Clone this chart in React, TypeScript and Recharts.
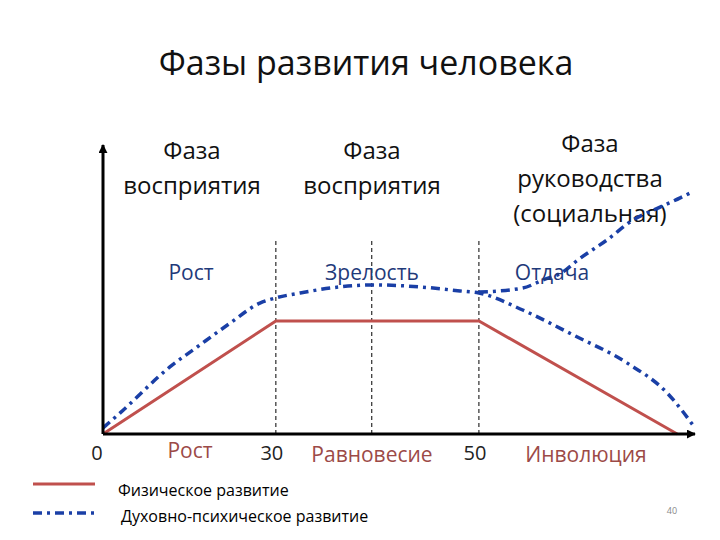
import { LineChart, Line, XAxis, YAxis, ReferenceLine } from "recharts";

// x is a position along the life line (0..100 across the plot), y is the level (0..100)
const physicalX = [0, 29.2, 63.5, 97.0];
const physicalY = [0, 39.1, 39.1, 0];

const mentalX = [0, 2.9, 11.3, 15.9, 21.5, 26.5, 29.2, 33.3, 40.0, 45.4, 53.5, 60.3, 63.5, 70.9, 79.4, 88.5, 95.3, 100];
const mentalY = [2.1, 7.3, 23.2, 30.1, 38.4, 45.3, 47.1, 48.8, 50.9, 51.6, 50.9, 49.5, 48.8, 42.9, 34.3, 24.6, 14.2, 2.1];

const socialX = [63.5, 70.9, 74.3, 77.7, 80.2, 85.1, 89.5, 94.1, 97.5, 99.3];
const socialY = [49.1, 50.5, 53.3, 56.1, 60.2, 67.1, 74.0, 78.5, 81.7, 83.5];

const tickPos = [0, 29.2, 63.5];
const tickLabels = ["0", "30", "50"];

const dividerX = [29.2, 45.4, 63.5];
const dividerTop = 66.8;

const zip = (xs: number[], ys: number[]) => xs.map((x, i) => ({ x, y: ys[i] }));
const physical = zip(physicalX, physicalY);
const mental = zip(mentalX, mentalY);
const social = zip(socialX, socialY);

const RED = "#c0504d";
const BLUE = "#1a3fa6";
const DASHDOT = "9 5 3 5";
const FONT = "'Open Sans', 'Noto Sans', sans-serif";

function Tick(props: any) {
	const { x, y, payload } = props;
	const i = tickPos.indexOf(payload.value);
	return (
		<text
			x={x + (i === 0 ? -6 : -4)}
			y={y + 4}
			dy="0.71em"
			textAnchor="middle"
			fontSize={20}
			fill="#222"
			fontFamily={FONT}
		>
			{tickLabels[i]}
		</text>
	);
}

function Label({ x, y, text, size, color }: { x: number; y: number; text: string; size: number; color: string }) {
	return (
		<div
			style={{
				position: "absolute",
				left: x,
				top: y,
				transform: "translate(-50%, -50%)",
				fontSize: size,
				color,
				whiteSpace: "nowrap",
				lineHeight: 1,
			}}
		>
			{text}
		</div>
	);
}

function Block({ x, top, lines }: { x: number; top: number; lines: string[] }) {
	return (
		<div
			style={{
				position: "absolute",
				left: x,
				top,
				transform: "translateX(-50%)",
				fontSize: 24,
				lineHeight: "35px",
				textAlign: "center",
				color: "#111",
				whiteSpace: "nowrap",
			}}
		>
			{lines.map((l) => (
				<div key={l}>{l}</div>
			))}
		</div>
	);
}

export default function App() {
	return (
		<div
			style={{
				position: "absolute",
				left: 0,
				top: 0,
				width: 720,
				height: 540,
				background: "#fff",
				fontFamily: FONT,
				overflow: "hidden",
			}}
		>
			<svg width={0} height={0} style={{ position: "absolute" }}>
				<defs>
					<marker
						id="arrow"
						viewBox="0 0 10 10"
						refX={9}
						refY={5}
						markerWidth={3}
						markerHeight={3}
						orient="auto-start-reverse"
					>
						<path d="M0,0 L10,5 L0,10 z" fill="#000" />
					</marker>
				</defs>
			</svg>

			<div style={{ position: "absolute", left: 366, top: 62, transform: "translate(-50%, -50%)", fontSize: 34, color: "#111", whiteSpace: "nowrap" }}>
				Фазы развития человека
			</div>

			<Block x={192} top={132} lines={["Фаза", "восприятия"]} />
			<Block x={372} top={132} lines={["Фаза", "восприятия"]} />
			<Block x={590} top={125} lines={["Фаза", "руководства", "(социальная)"]} />

			<LineChart width={720} height={540} margin={{ top: 145, right: 25, bottom: 76, left: 43 }} style={{ position: "absolute", left: 0, top: 0 }}>
				<XAxis
					dataKey="x"
					type="number"
					domain={[0, 100]}
					ticks={tickPos}
					tick={Tick}
					tickLine={false}
					axisLine={{ stroke: "#000", strokeWidth: 3, markerEnd: "url(#arrow)" }}
				/>
				<YAxis
					type="number"
					domain={[0, 100]}
					width={60}
					tick={false}
					tickLine={false}
					axisLine={{ stroke: "#000", strokeWidth: 3, markerStart: "url(#arrow)" }}
				/>
				{dividerX.map((x) => (
					<ReferenceLine
						key={x}
						segment={[
							{ x, y: 0 },
							{ x, y: dividerTop },
						]}
						stroke="#000"
						strokeWidth={1}
						strokeDasharray="4 3"
					/>
				))}
				<Line data={physical} dataKey="y" type="linear" stroke={RED} strokeWidth={3} dot={false} isAnimationActive={false} />
				<Line data={mental} dataKey="y" type="monotoneX" stroke={BLUE} strokeWidth={3.5} strokeDasharray={DASHDOT} dot={false} isAnimationActive={false} />
				<Line data={social} dataKey="y" type="monotoneX" stroke={BLUE} strokeWidth={3.5} strokeDasharray={DASHDOT} dot={false} isAnimationActive={false} />
			</LineChart>

			<Label x={191} y={272} text="Рост" size={21} color="#1f3a7a" />
			<Label x={372} y={272} text="Зрелость" size={21} color="#1f3a7a" />
			<Label x={552} y={272} text="Отдача" size={21} color="#1f3a7a" />

			<Label x={190} y={450} text="Рост" size={21} color="#9c4a47" />
			<Label x={372} y={454} text="Равновесие" size={21} color="#9c4a47" />
			<Label x={586} y={454} text="Инволюция" size={21} color="#9c4a47" />

			<svg width={720} height={540} style={{ position: "absolute", left: 0, top: 0, pointerEvents: "none" }}>
				<line x1={33} y1={484} x2={95} y2={484} stroke={RED} strokeWidth={3} />
				<line x1={33} y1={513} x2={95} y2={513} stroke={BLUE} strokeWidth={3.5} strokeDasharray={DASHDOT} />
			</svg>
			<div style={{ position: "absolute", left: 118, top: 490, transform: "translateY(-50%)", fontSize: 16, color: "#000", whiteSpace: "nowrap" }}>
				Физическое развитие
			</div>
			<div style={{ position: "absolute", left: 121, top: 516, transform: "translateY(-50%)", fontSize: 16, color: "#000", whiteSpace: "nowrap" }}>
				Духовно-психическое развитие
			</div>
			<div style={{ position: "absolute", left: 672, top: 510, transform: "translate(-50%, -50%)", fontSize: 9, color: "#888" }}>40</div>
		</div>
	);
}
